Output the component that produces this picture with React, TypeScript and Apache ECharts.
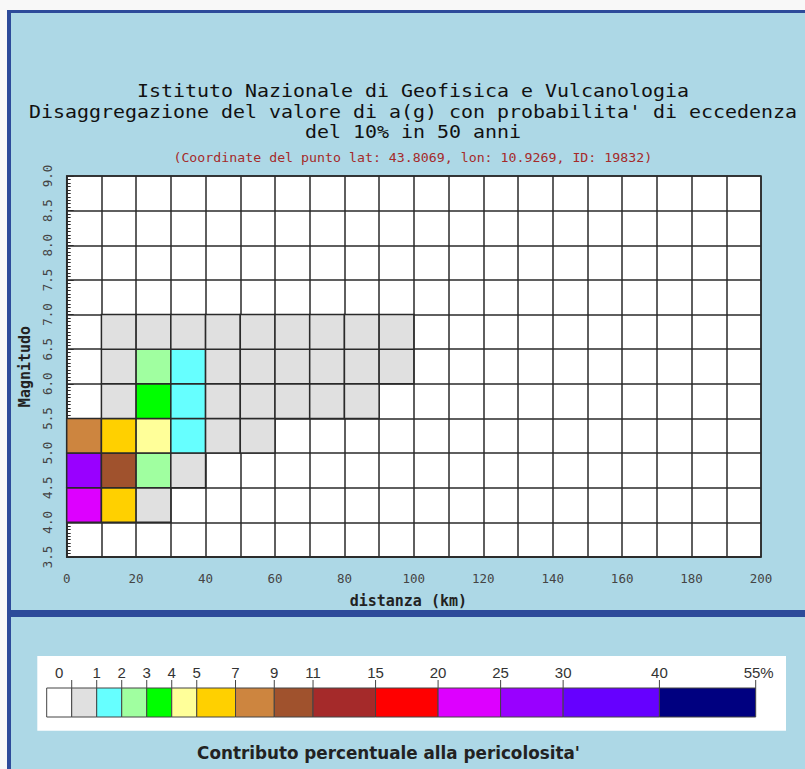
import React, { useEffect, useRef } from 'react';
import * as echarts from 'echarts';

// ---- Data ----
const distanceStarts = [0, 10, 20, 30, 40, 50, 60, 70, 80, 90]; // km, lower edge of each 10 km bin
const magnitudeStarts = [4.0, 4.5, 5.0, 5.5, 6.0, 6.5]; // lower edge of each 0.5 magnitude bin
// contribution (%) per distance bin, one array per magnitude bin (other bins are 0)
const contribM40 = [21.0, 5.5, 0.5, 0, 0, 0, 0, 0, 0, 0];
const contribM45 = [26.0, 9.5, 2.5, 0.5, 0, 0, 0, 0, 0, 0];
const contribM50 = [7.5, 5.5, 4.3, 1.3, 0.5, 0.3, 0, 0, 0, 0];
const contribM55 = [0, 0.7, 3.3, 1.3, 0.6, 0.4, 0.3, 0.2, 0.1, 0];
const contribM60 = [0, 0.4, 2.3, 1.3, 0.5, 0.4, 0.3, 0.2, 0.1, 0.1];
const contribM65 = [0, 0.2, 0.3, 0.3, 0.2, 0.2, 0.1, 0.1, 0.1, 0.1];
const contributionRows = [contribM40, contribM45, contribM50, contribM55, contribM60, contribM65];

const legendBreaks = [0, 1, 2, 3, 4, 5, 7, 9, 11, 15, 20, 25, 30, 40, 55];
const legendLabels = ['0', '1', '2', '3', '4', '5', '7', '9', '11', '15', '20', '25', '30', '40', '55%'];
const legendColors = [
  '#FFFFFF', '#E0E0E0', '#66FFFF', '#A0FFA0', '#00FF00', '#FFFF99', '#FFD000',
  '#CD853F', '#A0522D', '#A52A2A', '#FF0000', '#DD00FF', '#9900FF', '#6600FF', '#000080',
];

const titleLines = [
  'Istituto Nazionale di Geofisica e Vulcanologia',
  "Disaggregazione del valore di a(g) con probabilita' di eccedenza",
  'del 10% in 50 anni',
];
const subtitleText = '(Coordinate del punto lat: 43.8069, lon: 10.9269, ID: 19832)';
const legendTitle = "Contributo percentuale alla pericolosita'";

// ---- Layout / style constants ----
const DIST_STEP = 10;
const MAG_STEP = 0.5;
const LINE_COLOR = '#2a2a2a';
const PANEL_BLUE = '#ADD8E6';
const BORDER_BLUE = '#2D4B9A';
// relative widths of legend boxes (white box first, then one per interval)
const legendBoxWeights = [1, 1, 1, 1, 1, 1, 1.55, 1.55, 1.55, 2.5, 2.5, 2.5, 2.5, 3.85, 3.85];

function colorFor(v: number): string {
  for (let i = 0; i < legendBreaks.length - 1; i++) {
    if (v >= legendBreaks[i] && v < legendBreaks[i + 1]) return legendColors[i + 1];
  }
  return legendColors[legendColors.length - 1];
}

function buildCells() {
  const out: number[][] = [];
  magnitudeStarts.forEach((m, r) => {
    contributionRows[r].forEach((v, c) => {
      if (v > 0) out.push([distanceStarts[c], m, v]);
    });
  });
  return out;
}

function buildLegend(): any[] {
  const els: any[] = [];
  const barX0 = 46.7;
  const barW = 709;
  const barY = 688;
  const barH = 29;
  const total = legendBoxWeights.reduce((a, b) => a + b, 0);
  const unit = barW / total;
  // white background box
  els.push({ type: 'rect', z: 1, shape: { x: 37.3, y: 656, width: 748.7, height: 74.7 }, style: { fill: '#FFFFFF' } });
  let x = barX0;
  legendColors.forEach((col, i) => {
    const w = legendBoxWeights[i] * unit;
    els.push({ type: 'rect', z: 2, shape: { x, y: barY, width: w, height: barH }, style: { fill: col, stroke: '#444', lineWidth: 1 } });
    x += w;
  });
  // ticks and labels at each break
  let tx = barX0 + legendBoxWeights[0] * unit;
  legendBreaks.forEach((b, i) => {
    els.push({ type: 'line', z: 3, shape: { x1: tx, y1: 680, x2: tx, y2: barY }, style: { stroke: '#444', lineWidth: 1 } });
    const labelX = i === 0 ? barX0 + (legendBoxWeights[0] * unit) / 2 : i === legendBreaks.length - 1 ? tx + 3 : tx;
    els.push({
      type: 'text', z: 3, x: labelX, y: 672,
      style: { text: legendLabels[i], fill: '#333', font: '15px "Liberation Sans", Arial, sans-serif', textAlign: 'center', textVerticalAlign: 'middle' },
    });
    if (i + 1 < legendBoxWeights.length) tx += legendBoxWeights[i + 1] * unit;
  });
  els.push({
    type: 'text', z: 3, x: 388.5, y: 752.7,
    style: { text: legendTitle, fill: '#222', font: 'bold 16.8px "DejaVu Sans", Verdana, sans-serif', textAlign: 'center', textVerticalAlign: 'middle' },
  });
  return els;
}

function buildFrame(): any[] {
  return [
    { type: 'rect', z: -20, shape: { x: 0, y: 0, width: 805, height: 769 }, style: { fill: '#F8F8F8' } },
    { type: 'rect', z: -19, shape: { x: 7, y: 10, width: 798, height: 759 }, style: { fill: PANEL_BLUE } },
    { type: 'rect', z: -18, shape: { x: 7, y: 10, width: 798, height: 3 }, style: { fill: BORDER_BLUE } },
    { type: 'rect', z: -18, shape: { x: 7, y: 10, width: 4, height: 759 }, style: { fill: BORDER_BLUE } },
    { type: 'rect', z: -18, shape: { x: 7, y: 610, width: 798, height: 7 }, style: { fill: BORDER_BLUE } },
  ];
}

function buildTitles(): any[] {
  const ys = [91.2, 112.2, 131.9];
  const els: any[] = titleLines.map((t, i) => ({
    type: 'text', z: 5, x: 413, y: ys[i], scaleX: 1.173,
    style: { text: t, fill: '#111', font: '17px "DejaVu Sans Mono", monospace', textAlign: 'center', textVerticalAlign: 'middle' },
  }));
  els.push({
    type: 'text', z: 5, x: 412.8, y: 157.3, scaleX: 1.02,
    style: { text: subtitleText, fill: '#A52A2A', font: '13px "DejaVu Sans Mono", monospace', textAlign: 'center', textVerticalAlign: 'middle' },
  });
  return els;
}

export default function App() {
  const ref = useRef<HTMLDivElement>(null);
  useEffect(() => {
    if (!ref.current) return;
    const chart = echarts.init(ref.current, null, { renderer: 'svg' });
    const option: any = {
      animation: false,
      backgroundColor: 'transparent',
      grid: {
        left: 66.7, top: 176, width: 694.3, height: 381,
        show: true, backgroundColor: '#FFFFFF', borderColor: LINE_COLOR, borderWidth: 1.5, z: 0,
      },
      xAxis: {
        type: 'value', min: 0, max: 200, interval: DIST_STEP,
        name: 'distanza (km)', nameLocation: 'middle', nameGap: 36,
        nameTextStyle: { fontFamily: '"DejaVu Sans Mono", monospace', fontWeight: 'bold', fontSize: 15, color: '#222', padding: [0, 11, 0, 0] },
        axisLine: { show: true, lineStyle: { color: LINE_COLOR, width: 1.5 } },
        axisTick: { show: false },
        axisLabel: {
          margin: 15, color: '#444', fontFamily: '"DejaVu Sans Mono", monospace', fontSize: 12.5,
          formatter: (v: number) => (v % 20 === 0 ? String(v) : ''),
        },
        splitLine: { show: true, lineStyle: { color: LINE_COLOR, width: 1.5 } },
      },
      yAxis: {
        type: 'value', min: 3.5, max: 9.0, interval: MAG_STEP,
        name: 'Magnitudo', nameLocation: 'middle', nameRotate: 90, nameGap: 33,
        nameTextStyle: { fontFamily: '"DejaVu Sans Mono", monospace', fontWeight: 'bold', fontSize: 15, color: '#222' },
        axisLine: { show: true, lineStyle: { color: LINE_COLOR, width: 1.5 } },
        axisTick: { show: true, inside: true, length: 7, lineStyle: { color: LINE_COLOR } },
        minorTick: { show: true, splitNumber: 10, length: 4, lineStyle: { color: LINE_COLOR } },
        axisLabel: {
          rotate: 90, margin: 13, color: '#444', fontFamily: '"DejaVu Sans Mono", monospace', fontSize: 12.5,
          formatter: (v: number) => v.toFixed(1),
        },
        splitLine: { show: true, lineStyle: { color: LINE_COLOR, width: 1.5 } },
      },
      series: [
        {
          type: 'custom',
          coordinateSystem: 'cartesian2d',
          encode: { x: 0, y: 1 },
          data: buildCells(),
          z: 1,
          renderItem: (params: any, api: any) => {
            const d = api.value(0);
            const m = api.value(1);
            const v = api.value(2);
            const tl = api.coord([d, m + MAG_STEP]);
            const br = api.coord([d + DIST_STEP, m]);
            return {
              type: 'rect',
              shape: { x: tl[0], y: tl[1], width: br[0] - tl[0], height: br[1] - tl[1] },
              style: { fill: colorFor(v), stroke: LINE_COLOR, lineWidth: 1.5 },
            };
          },
        },
      ],
      graphic: { elements: [...buildFrame(), ...buildTitles(), ...buildLegend()] },
    };
    chart.setOption(option);
    return () => chart.dispose();
  }, []);
  return <div ref={ref} style={{ position: 'absolute', left: 0, top: 0, width: 805, height: 769 }} />;
}
